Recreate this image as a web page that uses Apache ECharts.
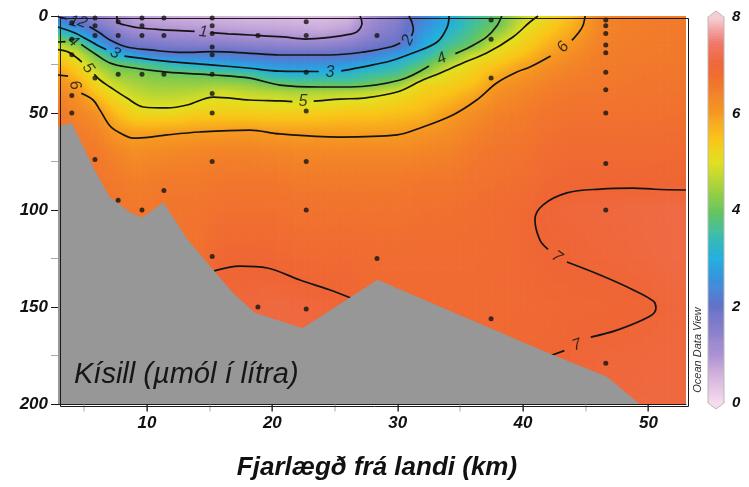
<!DOCTYPE html>
<html><head><meta charset="utf-8">
<script src="https://cdn.jsdelivr.net/npm/echarts@6/dist/echarts.min.js"></script>
<style>html,body{margin:0;padding:0;background:#fff}#c{width:749px;height:487px}</style>
</head><body><div id="c"></div>
<script>
// ---- data ----
const distKm = [2.9, 4.5, 6, 7.5, 9, 10.5, 12, 14, 16, 18, 20, 22, 24, 26, 28, 30, 32, 34, 36, 38, 40, 42, 44, 46, 48, 50, 53];
const depthM = [0, 5, 10, 15, 20, 25, 30, 35, 40, 50, 60, 70, 85, 100, 125, 150, 175, 200];
// one silicate profile (µmol/l) per distance column, values at depthM
const silicateProfiles = [
  [1.95, 2.9, 3.7, 4.75, 5.3, 5.65, 5.97, 6.2, 6.35, 6.55, 6.65, 6.7, 6.7, 6.7, 6.7, 6.7, 6.7, 6.7],
  [1.65, 2.3, 3.1, 4.2, 4.85, 5.25, 5.5, 5.85, 6.1, 6.35, 6.5, 6.6, 6.65, 6.7, 6.7, 6.7, 6.7, 6.7],
  [1.3, 1.7, 2.3, 3.0, 4.0, 4.45, 4.9, 5.2, 5.5, 6.15, 6.4, 6.55, 6.65, 6.7, 6.7, 6.7, 6.7, 6.7],
  [1.0, 1.35, 1.7, 2.15, 3.15, 4.0, 4.35, 4.75, 5.05, 5.6, 6.05, 6.35, 6.55, 6.65, 6.7, 6.7, 6.7, 6.7],
  [0.8, 0.97, 1.4, 1.85, 2.7, 3.85, 4.25, 4.5, 4.75, 5.2, 5.92, 6.2, 6.45, 6.6, 6.7, 6.7, 6.7, 6.7],
  [0.7, 0.9, 1.3, 1.75, 2.3, 3.6, 4.15, 4.38, 4.6, 5.15, 5.92, 6.25, 6.5, 6.6, 6.7, 6.7, 6.7, 6.7],
  [0.65, 0.85, 1.2, 1.65, 2.2, 3.3, 4.05, 4.35, 4.6, 5.15, 5.95, 6.3, 6.55, 6.65, 6.7, 6.7, 6.7, 6.7],
  [0.6, 0.8, 1.15, 1.6, 2.2, 3.05, 4.0, 4.35, 4.7, 5.3, 6.0, 6.35, 6.55, 6.65, 6.75, 6.8, 6.8, 6.8],
  [0.55, 0.75, 1.1, 1.6, 2.2, 2.9, 3.85, 4.4, 4.9, 5.35, 6.02, 6.4, 6.6, 6.75, 6.97, 7.05, 7.05, 7.05],
  [0.5, 0.7, 1.02, 1.5, 2.1, 2.75, 3.65, 4.3, 4.75, 5.35, 6.05, 6.4, 6.6, 6.75, 6.97, 7.08, 7.1, 7.1],
  [0.5, 0.68, 0.98, 1.45, 2.0, 2.6, 3.2, 4.02, 4.7, 5.3, 5.99, 6.35, 6.6, 6.75, 6.96, 7.1, 7.1, 7.1],
  [0.45, 0.65, 0.9, 1.4, 2.0, 2.55, 3.1, 3.85, 4.6, 5.35, 5.95, 6.3, 6.55, 6.7, 6.9, 7.1, 7.1, 7.1],
  [0.45, 0.6, 0.88, 1.4, 2.0, 2.6, 3.15, 3.85, 4.65, 5.35, 5.95, 6.3, 6.55, 6.7, 6.88, 7.05, 7.05, 7.05],
  [0.5, 0.72, 1.05, 1.55, 2.05, 2.7, 3.25, 3.8, 4.7, 5.45, 5.95, 6.3, 6.55, 6.7, 6.9, 7.0, 7.0, 7.0],
  [1.15, 1.3, 1.5, 1.8, 2.3, 2.97, 3.5, 4.0, 4.8, 5.45, 5.95, 6.3, 6.55, 6.7, 6.85, 6.9, 6.9, 6.9],
  [1.5, 1.65, 1.8, 2.0, 2.75, 3.3, 3.7, 4.3, 5.05, 5.55, 5.97, 6.3, 6.55, 6.7, 6.85, 6.9, 6.9, 6.9],
  [2.3, 2.5, 2.7, 2.9, 3.3, 3.8, 4.3, 5.2, 5.35, 5.65, 6.1, 6.35, 6.6, 6.75, 6.85, 6.9, 6.9, 6.9],
  [2.95, 3.0, 3.3, 3.6, 3.95, 4.6, 5.1, 5.3, 5.5, 5.95, 6.2, 6.4, 6.6, 6.75, 6.85, 6.9, 6.9, 6.9],
  [3.5, 3.6, 3.8, 4.0, 4.8, 5.2, 5.35, 5.5, 5.8, 6.2, 6.4, 6.55, 6.7, 6.8, 6.85, 6.9, 6.9, 6.9],
  [3.95, 4.03, 4.45, 4.97, 5.2, 5.5, 5.8, 6.03, 6.2, 6.4, 6.55, 6.65, 6.75, 6.85, 6.88, 6.9, 6.9, 6.9],
  [4.7, 4.93, 5.15, 5.3, 5.55, 5.85, 6.08, 6.25, 6.35, 6.5, 6.6, 6.7, 6.8, 6.9, 6.9, 6.9, 6.92, 6.92],
  [5.2, 5.35, 5.55, 5.75, 5.95, 6.15, 6.3, 6.42, 6.5, 6.65, 6.75, 6.82, 6.92, 7.03, 6.99, 6.9, 6.95, 6.95],
  [5.6, 5.75, 5.92, 6.1, 6.25, 6.35, 6.45, 6.52, 6.6, 6.72, 6.8, 6.88, 6.96, 7.06, 7.01, 6.95, 7.02, 7.05],
  [6.3, 6.32, 6.35, 6.4, 6.45, 6.5, 6.53, 6.57, 6.62, 6.7, 6.8, 6.88, 6.97, 7.08, 7.04, 6.96, 7.04, 7.06],
  [6.45, 6.45, 6.47, 6.5, 6.52, 6.55, 6.58, 6.6, 6.64, 6.72, 6.8, 6.88, 6.97, 7.1, 7.06, 6.97, 7.06, 7.08],
  [6.5, 6.5, 6.52, 6.53, 6.55, 6.57, 6.6, 6.62, 6.66, 6.73, 6.8, 6.88, 6.97, 7.12, 7.1, 6.99, 7.08, 7.1],
  [6.55, 6.55, 6.56, 6.57, 6.58, 6.6, 6.62, 6.64, 6.68, 6.75, 6.82, 6.9, 6.98, 7.15, 7.15, 7.1, 7.1, 7.1]
];
// sea floor
const bottomKm    = [2.9, 4.0, 5.7, 7.0, 8.6, 9.6, 11.3, 13.2, 15.3, 16.9, 18.6, 22.4, 28.4, 30.2, 42.1, 46.7, 49.3, 53];
const bottomDepth = [57, 55, 78, 93, 101, 104, 96, 115, 131, 143, 153, 161, 136, 141, 174, 186, 200, 200];
// sampling stations
const stationKm = [4.0, 5.85, 7.7, 9.6, 11.35, 15.2, 18.85, 22.7, 28.35, 37.45, 46.6];
const stationDepths = [
  [3.5, 12, 20, 41, 50],
  [1, 5, 10, 32, 74],
  [3, 10, 30, 95],
  [1, 5, 10, 30, 100],
  [1, 10, 30, 90],
  [1, 5, 9, 16, 20, 30, 40, 50, 75, 124],
  [10, 150],
  [3, 10, 29, 49, 75, 100, 151],
  [10, 125],
  [2, 12, 32, 156],
  [2, 5, 9, 15, 19, 29, 38, 50, 76, 100, 179]
];
// contour lines [km, depth], split where labels sit
const contour1 = [
  [[7.6,0],[7.65,3.1],[8.5,5],[9.45,6.2],[11,7],[13.8,7.9]],
  [[15.1,8.6],[16.5,9.2],[18.2,9.8],[20.85,10.8],[22.6,11.9],[24.85,10.8],[26.1,9.5],[26.75,8.2],[27.15,3.6],[27.0,0]]
];
const contour2 = [
  [[2.9,0.4],[3.6,1.5]],
  [[5.4,5.6],[6.25,8.8],[7.05,12.4],[8.4,16.0],[10.25,17.5],[12.9,18.8],[15.3,18.4],[18.0,19.1],[20.6,20.1],[24.6,20.1],[27.25,18.6],[29.4,16],[30.2,13.9]],
  [[31.1,10.3],[31.25,7],[31.15,3.6],[30.9,0]]
];
const contour3 = [
  [[2.9,5.7],[4.26,8.8],[5.3,12.4],[6.0,14.9],[6.75,17.3]],
  [[8.2,20.7],[10.65,22.7],[13.0,24.2],[15.3,25.3],[18.0,26.8],[20.6,28.4],[23.7,28.6]],
  [[25.5,28.3],[27.55,25.8],[29.4,23.2],[31.2,19.1],[33.15,13.4],[33.95,5.7],[34.1,0]]
];
const contour4 = [
  [[2.9,13.4],[3.5,13.2]],
  [[4.75,14.6],[6.0,20.1],[7.05,24.2],[8.4,26.3],[11.6,28.9],[15.3,30.4],[18.2,32.0],[20.6,35.6],[23.8,36.6],[26.2,36.6],[30.2,33.0],[32.5,25.8]],
  [[34.6,19.4],[35.75,16.0],[37.1,10.8],[37.9,5.2],[38.3,0]]
];
const contour5 = [
  [[2.9,17.3],[3.7,18.5],[4.4,21.5],[4.8,23.8]],
  [[5.8,30],[6.25,33],[7.05,36.6],[8.4,42.3],[9.7,46.9],[11.6,47.4],[13.2,45.9],[15.3,41.8],[18.2,43.3],[20.6,43.8],[21.6,44.1]],
  [[23.3,43.9],[25.4,42.8],[27.25,42.3],[29.95,39.2],[32.0,33.0],[33.4,29.4],[35.2,24.2],[37.1,19.1],[39.2,10.8],[40.55,3.1],[41.2,0]]
];
const contour6 = [
  [[2.9,30.4],[3.7,31]],
  [[4.75,39.8],[5.7,43.3],[6.25,48.5],[7.05,56.7],[7.85,60.3],[8.9,62.9],[10.25,62.4],[11.6,61.3],[14.2,59.8],[18.2,58.8],[20.6,60.8],[25.4,62.4],[29.95,61.3],[31.8,57.7],[34.4,51.0],[36.3,43.3],[37.9,34.5],[39.5,28.9],[40.55,26.3],[42.2,20.6]],
  [[43.9,12.6],[44.5,8],[44.8,4.6],[44.95,0]]
];
const contour7 = [
  [[53,89.7],[50.5,89.3],[48.8,88.7],[46.15,89.2],[43.5,91.2],[41.6,97.4],[40.95,105],[41.35,115.5],[42.0,120.3]],
  [[43.5,126.8],[46.15,133.5],[48.8,141.2],[50.4,147],[50.6,150.5],[50.15,154.6],[47.5,161.9],[45.4,165.5]],
  [[43.3,172.5],[42.0,175.5]],
  [[15.35,131.4],[17.4,128.9],[19.6,129.9],[22.2,136.1],[24.5,141],[26.5,146]]
];
// contour labels: [km, depth, text, rotation]
const contourLabels = [
  [4.15, 2.9, '1', -15], [4.85, 3.3, '2', -20], [14.5, 8.2, '1', -5], [30.8, 12.4, '2', 65],
  [7.45, 19.1, '3', -30], [24.6, 28.9, '3', 0], [4.1, 13.0, '4', -40], [33.5, 22.0, '4', 25],
  [5.3, 26.8, '5', -55], [22.45, 44.3, '5', 0], [4.26, 35.6, '6', -70], [43.2, 16.0, '6', 55],
  [42.7, 124.2, '7', -35], [44.3, 169.6, '7', 20]
];
const xTickLabels = [10, 20, 30, 40, 50];
const xAllTicks = [5, 10, 15, 20, 25, 30, 35, 40, 45, 50];
const colorbarRange = [0, 8];
const paletteStops = [
  [0.0, '#f5dcef'], [0.5, '#d9b9e0'], [1.0, '#ad92d2'], [1.5, '#8a80cc'], [2.0, '#6472c8'],
  [2.5, '#3d8ddc'], [3.0, '#22aee0'], [3.5, '#3cbdaa'], [4.0, '#68c65a'], [4.5, '#a8d23c'],
  [5.0, '#e2e020'], [5.5, '#fac418'], [6.0, '#f69a20'], [6.5, '#f27c2a'], [7.0, '#ef6535'],
  [7.5, '#f07a6e'], [8.0, '#f7d0d6']
];

// ---- helpers ----
const FONT = "'Liberation Sans', Arial, sans-serif";
const stopRgb = paletteStops.map(s => [s[0], [1,3,5].map(k => parseInt(s[1].slice(k, k+2), 16))]);
const colorCache = {};
function colorAt(v) {
  v = Math.max(0, Math.min(8, v));
  const key = Math.round(v * 200);
  if (colorCache[key]) return colorCache[key];
  let c = stopRgb[stopRgb.length-1][1];
  for (let k = 1; k < stopRgb.length; k++) {
    if (v <= stopRgb[k][0]) {
      const a = stopRgb[k-1], b = stopRgb[k];
      const t = (v - a[0]) / (b[0] - a[0]);
      c = [0,1,2].map(n => Math.round(a[1][n] + (b[1][n] - a[1][n]) * t));
      break;
    }
  }
  return (colorCache[key] = 'rgb(' + c.join(',') + ')');
}

const fieldCells = [];
for (let i = 0; i < distKm.length - 1; i++)
  for (let j = 0; j < depthM.length - 1; j++)
    fieldCells.push([distKm[i], depthM[j], i, j]);

function renderField(params, api) {
  const i = api.value(2), j = api.value(3);
  const p0 = api.coord([distKm[i], depthM[j]]);
  const p1 = api.coord([distKm[i+1], depthM[j+1]]);
  const w = p1[0] - p0[0], h = p1[1] - p0[1];
  const a00 = silicateProfiles[i][j], a10 = silicateProfiles[i+1][j];
  const a01 = silicateProfiles[i][j+1], a11 = silicateProfiles[i+1][j+1];
  const nx = Math.max(1, Math.ceil(w / 2.5)), ny = Math.max(1, Math.ceil(h / 2.5));
  const children = [];
  for (let a = 0; a < nx; a++) {
    for (let b = 0; b < ny; b++) {
      const u = (a + 0.5) / nx, t = (b + 0.5) / ny;
      const v = a00*(1-u)*(1-t) + a10*u*(1-t) + a01*(1-u)*t + a11*u*t;
      children.push({type: 'rect', shape: {x: p0[0] + a*w/nx, y: p0[1] + b*h/ny, width: w/nx + 0.7, height: h/ny + 0.7},
        style: {fill: colorAt(v)}});
    }
  }
  return {type: 'group', children};
}

function renderBottom(params, api) {
  const pts = bottomKm.map((k, n) => api.coord([k, bottomDepth[n]]));
  pts.push(api.coord([bottomKm[0], 200]));
  return {type: 'polygon', shape: {points: pts}, style: {fill: '#979797'}};
}

// x-axis ticks drawn through the x scale: major black, intermediate grey
function renderXTicks(params, api) {
  const children = xAllTicks.map(v => {
    const p = api.coord([v, 200]);
    const major = xTickLabels.indexOf(v) >= 0;
    return {type: 'rect', shape: {x: Math.round(p[0]) - 0.5, y: p[1] + 0.5, width: major ? 1.3 : 1, height: 7},
      style: {fill: major ? '#111111' : '#a8a8a8'}};
  });
  return {type: 'group', children};
}

function renderColorbar(params, api) {
  const children = [];
  const step = 0.04;
  for (let v = colorbarRange[0]; v < colorbarRange[1] - 1e-9; v += step) {
    const pA = api.coord([0, v]), pB = api.coord([1, v + step]);
    children.push({type: 'rect', shape: {x: pA[0], y: pB[1], width: pB[0]-pA[0], height: pA[1]-pB[1] + 0.6},
      style: {fill: colorAt(v + step/2)}});
  }
  const tl = api.coord([0, colorbarRange[1]]), br = api.coord([1, colorbarRange[0]]);
  const cx = (tl[0] + br[0]) / 2;
  children.push({type: 'polygon', shape: {points: [[tl[0], tl[1]+0.5], [br[0], tl[1]+0.5], [cx, tl[1]-6]]}, style: {fill: colorAt(7.98)}});
  children.push({type: 'polygon', shape: {points: [[tl[0], br[1]-0.5], [br[0], br[1]-0.5], [cx, br[1]+6]]}, style: {fill: colorAt(0.02)}});
  children.push({type: 'polygon', shape: {points: [[tl[0], tl[1]], [cx, tl[1]-6], [br[0], tl[1]], [br[0], br[1]], [cx, br[1]+6], [tl[0], br[1]]]},
    style: {fill: 'none', stroke: '#b8b8b8', lineWidth: 1}});
  return {type: 'group', children};
}

const lineStyle = {color: '#141414', width: 1.7};
const contourSeries = [];
[contour1, contour2, contour3, contour4, contour5, contour6, contour7].forEach(set => {
  set.forEach(seg => contourSeries.push({
    type: 'line', xAxisIndex: 0, yAxisIndex: 0, data: seg, smooth: 0.35, symbol: 'none',
    lineStyle: lineStyle, z: 3, silent: true, animation: false
  }));
});

const stationPoints = [];
stationKm.forEach((k, n) => stationDepths[n].forEach(d => stationPoints.push([k, d])));

const labelItems = contourLabels.map(l => ({value: [l[0], l[1]], name: l[2], label: {rotate: l[3]}}));

const axisLabelStyle = {fontFamily: FONT, fontStyle: 'italic', fontWeight: 'bold', fontSize: 17, color: '#111'};

const chart = echarts.init(document.getElementById('c'), null, {renderer: 'canvas', width: 749, height: 487});
chart.setOption({
  animation: false,
  backgroundColor: '#ffffff',
  grid: [
    {left: 58, top: 16, width: 628, height: 388},
    {left: 708, top: 17, width: 16, height: 386}
  ],
  xAxis: [
    {gridIndex: 0, type: 'value', min: 2.9, max: 53, position: 'bottom',
     axisLine: {show: true, onZero: false, lineStyle: {color: '#1a1a1a', width: 1}},
     axisTick: {show: false},
     axisLabel: Object.assign({customValues: xTickLabels, margin: 11}, axisLabelStyle),
     splitLine: {show: false}},
    {gridIndex: 1, type: 'value', min: 0, max: 1, show: false}
  ],
  yAxis: [
    {gridIndex: 0, type: 'value', inverse: true, min: 0, max: 200, interval: 50,
     axisLine: {show: true, lineStyle: {color: '#1a1a1a', width: 1}},
     axisTick: {show: true, length: 7, lineStyle: {color: '#1a1a1a'}},
     minorTick: {show: true, splitNumber: 2, length: 7, lineStyle: {color: '#a8a8a8'}},
     axisLabel: Object.assign({margin: 10}, axisLabelStyle),
     splitLine: {show: false}, minorSplitLine: {show: false}},
    {gridIndex: 1, type: 'value', min: 0, max: 8, interval: 2, position: 'right',
     axisLine: {show: false}, axisTick: {show: false}, splitLine: {show: false},
     axisLabel: Object.assign({}, axisLabelStyle, {fontSize: 15, margin: 8})}
  ],
  series: [
    {type: 'custom', xAxisIndex: 0, yAxisIndex: 0, data: fieldCells, renderItem: renderField,
     encode: {x: 0, y: 1}, clip: true, z: 1, silent: true},
    ...contourSeries,
    {type: 'custom', xAxisIndex: 0, yAxisIndex: 0, data: [[bottomKm[0], bottomDepth[0]]], renderItem: renderBottom,
     encode: {x: 0, y: 1}, clip: true, z: 5, silent: true},
    {type: 'scatter', xAxisIndex: 0, yAxisIndex: 0, data: stationPoints, symbol: 'circle', symbolSize: 5,
     itemStyle: {color: '#141414'}, z: 6, silent: true},
    {type: 'scatter', xAxisIndex: 0, yAxisIndex: 0, data: labelItems, symbolSize: 0, z: 7, silent: true,
     label: {show: true, position: 'inside', formatter: p => p.name, fontFamily: FONT, fontStyle: 'italic',
       fontSize: 16, color: '#111'}},
    {type: 'custom', xAxisIndex: 0, yAxisIndex: 0, data: [[30, 100]], renderItem: renderXTicks,
     encode: {x: 0, y: 1}, clip: false, z: 8, silent: true},
    {type: 'custom', xAxisIndex: 1, yAxisIndex: 1, data: [[0, 0]], renderItem: renderColorbar,
     encode: {x: 0, y: 1}, clip: false, z: 2, silent: true}
  ],
  graphic: [
    {type: 'rect', left: 58, top: 16, shape: {width: 628, height: 388}, style: {fill: 'none', stroke: '#1a1a1a', lineWidth: 1}, z: 100, silent: true},
    {type: 'text', x: 74, y: 375, style: {text: 'Kísill (µmól í lítra)', fontFamily: FONT, fontStyle: 'italic', fontSize: 29, fill: '#161616', textVerticalAlign: 'middle'}, z: 100},
    {type: 'text', x: 377, y: 468, style: {text: 'Fjarlægð frá landi (km)', fontFamily: FONT, fontStyle: 'italic', fontWeight: 'bold', fontSize: 26, fill: '#111', textAlign: 'center', textVerticalAlign: 'middle'}, z: 100},
    {type: 'text', x: 698, y: 350, rotation: Math.PI / 2, style: {text: 'Ocean Data View', fontFamily: FONT, fontStyle: 'italic', fontSize: 11, fill: '#333', textAlign: 'center', textVerticalAlign: 'middle'}, z: 100}
  ]
});
</script>
</body></html>
